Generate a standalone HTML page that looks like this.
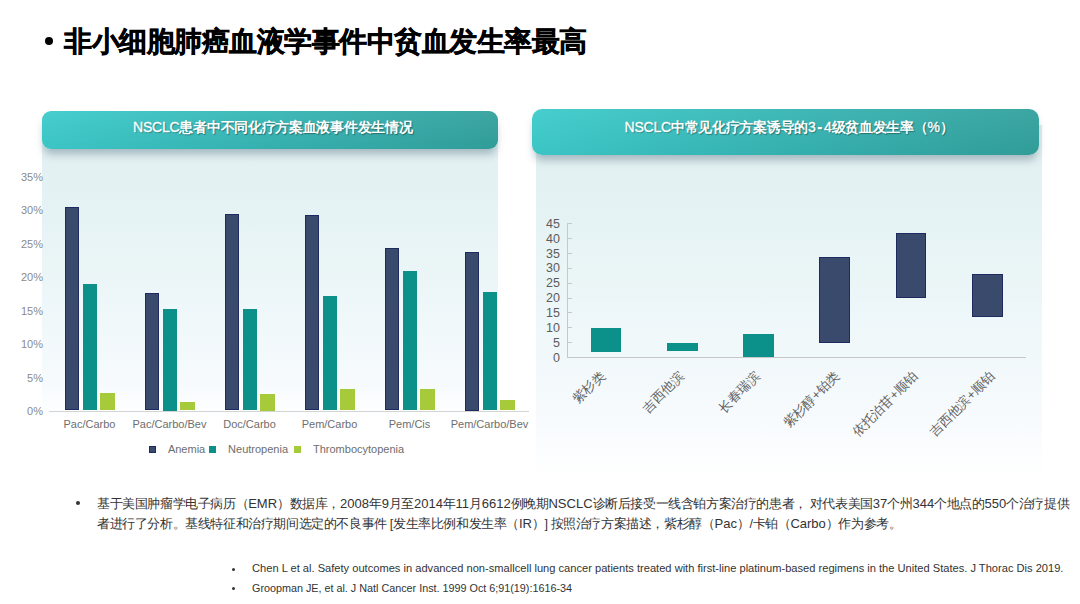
<!DOCTYPE html>
<html><head><meta charset="utf-8">
<style>
*{margin:0;padding:0;box-sizing:border-box}
html,body{width:1080px;height:604px;overflow:hidden;background:#fff}
body{position:relative;font-family:"Liberation Sans",sans-serif;color:#333}
.abs{position:absolute;white-space:nowrap;line-height:1}
.panel{position:absolute}
#pl{left:42px;top:130px;width:456px;height:292px;background:linear-gradient(to bottom,#e0eff0 0%,#e6f3f4 30%,#eef7f9 60%,#f6fafd 85%,#ffffff 100%)}
#pr{left:535.5px;top:125px;width:506px;height:355px;background:linear-gradient(to bottom,#e0eff0 0%,#e6f3f4 28%,#eef7f9 55%,#f6fafd 80%,#ffffff 100%)}
.hdr{position:absolute;border-radius:9px;background:linear-gradient(to bottom,rgba(255,255,255,0.05),rgba(0,0,0,0.03)),linear-gradient(to right,#3dcbcb 0%,#36b5b4 50%,#32a19d 100%);box-shadow:0 7px 8px -2px rgba(60,90,110,0.38)}
.hdr span{position:absolute;color:#fff;font-weight:700;font-size:14px;letter-spacing:-0.3px;line-height:1;white-space:nowrap;text-shadow:1px 1px 1px rgba(0,0,0,0.35)}
.hdr span b{font-weight:400;letter-spacing:-0.2px;-webkit-text-stroke:0.3px #fff}
.ylab{position:absolute;font-size:11px;color:#8a8a8a;line-height:1;text-align:right;width:30px}
.xlab{position:absolute;font-size:11px;color:#6e6e6e;line-height:1;white-space:nowrap}
.bar{position:absolute}
.a{background:#3a4a6c;border:1px solid #1f2b5e}
.n{background:#0b918a}
.t{background:#a6ca3a}
.rylab{position:absolute;font-size:12.5px;color:#5c5c5c;line-height:1;text-align:right;width:30px}
.rxlab{position:absolute;width:0;height:0}
.rxlab span{position:absolute;right:0;top:0;font-size:13px;color:#606060;line-height:1;white-space:nowrap;transform-origin:100% 0;transform:rotate(-45deg)}
.fn{position:absolute;white-space:nowrap;line-height:1;font-size:12.5px;letter-spacing:-0.4px;color:#333;font-weight:500;transform-origin:0 0}
.fn i{font-style:normal;letter-spacing:0;font-size:13px}
.ref{position:absolute;white-space:nowrap;line-height:1;font-size:11px;color:#333;transform-origin:0 0}
</style></head><body>
<div class="abs" style="left:44.5px;top:37px;width:8px;height:8px;border-radius:50%;background:#000"></div>
<div class="abs" id="title" style="left:64px;top:28px;font-size:27.5px;letter-spacing:-0.5px;font-weight:900;color:#000;-webkit-text-stroke:0.5px #000">非小细胞肺癌血液学事件中贫血发生率最高</div>
<div class="panel" id="pl"></div>
<div class="panel" id="pr"></div>
<div class="hdr" style="left:42px;top:110.5px;width:456px;height:38.5px"><span id="h1" style="left:91px;top:9.5px"><b>NSCLC</b>患者中不同化疗方案血液事件发生情况</span></div>
<div class="hdr" style="left:532px;top:108.5px;width:507px;height:46px;border-radius:10px"><span id="h2" style="left:92.5px;top:11.5px"><b>NSCLC</b>中常见化疗方案诱导的<b>3<span style="position:static;margin:0 2px;text-shadow:inherit">-</span>4</b>级贫血发生率（<b>%</b>）</span></div>
<div class="ylab" style="left:13px;top:406.1px">0%</div>
<div class="ylab" style="left:13px;top:372.7px">5%</div>
<div class="ylab" style="left:13px;top:339.2px">10%</div>
<div class="ylab" style="left:13px;top:305.8px">15%</div>
<div class="ylab" style="left:13px;top:272.3px">20%</div>
<div class="ylab" style="left:13px;top:238.9px">25%</div>
<div class="ylab" style="left:13px;top:205.4px">30%</div>
<div class="ylab" style="left:13px;top:172.0px">35%</div>
<div class="abs" style="left:49.3px;top:411px;width:480px;height:1px;background:#d4d4d4"></div>
<div class="bar a" style="left:64.9px;top:207.2px;width:14.3px;height:203.3px"></div>
<div class="bar n" style="left:82.7px;top:284.2px;width:14.3px;height:126.3px"></div>
<div class="bar t" style="left:100.4px;top:392.9px;width:14.3px;height:17.6px"></div>
<div class="xlab" style="left:89.5px;top:419px;transform:translateX(-50%)">Pac/Carbo</div>
<div class="bar a" style="left:144.9px;top:292.8px;width:14.3px;height:117.7px"></div>
<div class="bar n" style="left:162.7px;top:308.5px;width:14.3px;height:102.0px"></div>
<div class="bar t" style="left:180.4px;top:402.1px;width:14.3px;height:8.4px"></div>
<div class="xlab" style="left:169.5px;top:419px;transform:translateX(-50%)">Pac/Carbo/Bev</div>
<div class="bar a" style="left:224.9px;top:213.8px;width:14.3px;height:196.7px"></div>
<div class="bar n" style="left:242.7px;top:309.2px;width:14.3px;height:101.3px"></div>
<div class="bar t" style="left:260.4px;top:394.0px;width:14.3px;height:16.5px"></div>
<div class="xlab" style="left:249.5px;top:419px;transform:translateX(-50%)">Doc/Carbo</div>
<div class="bar a" style="left:304.9px;top:214.9px;width:14.3px;height:195.6px"></div>
<div class="bar n" style="left:322.6px;top:295.7px;width:14.3px;height:114.8px"></div>
<div class="bar t" style="left:340.4px;top:389.3px;width:14.3px;height:21.2px"></div>
<div class="xlab" style="left:329.5px;top:419px;transform:translateX(-50%)">Pem/Carbo</div>
<div class="bar a" style="left:384.9px;top:248.2px;width:14.3px;height:162.3px"></div>
<div class="bar n" style="left:402.6px;top:270.9px;width:14.3px;height:139.6px"></div>
<div class="bar t" style="left:420.4px;top:388.8px;width:14.3px;height:21.7px"></div>
<div class="xlab" style="left:409.5px;top:419px;transform:translateX(-50%)">Pem/Cis</div>
<div class="bar a" style="left:464.9px;top:252.0px;width:14.3px;height:158.5px"></div>
<div class="bar n" style="left:482.6px;top:291.6px;width:14.3px;height:118.9px"></div>
<div class="bar t" style="left:500.4px;top:400.1px;width:14.3px;height:10.4px"></div>
<div class="xlab" style="left:489.5px;top:419px;transform:translateX(-50%)">Pem/Carbo/Bev</div>
<div class="bar a" style="left:149px;top:446px;width:7px;height:7px"></div>
<div class="xlab" style="left:167.9px;top:444px">Anemia</div>
<div class="bar n" style="left:209.2px;top:446px;width:7px;height:7px"></div>
<div class="xlab" style="left:228.1px;top:444px">Neutropenia</div>
<div class="bar t" style="left:294.1px;top:446px;width:7px;height:7px"></div>
<div class="xlab" style="left:313px;top:444px">Thrombocytopenia</div>
<div class="rylab" style="left:530px;top:351.5px">0</div>
<div class="rylab" style="left:530px;top:336.6px">5</div>
<div class="abs" style="left:567.8px;top:342.1px;width:4.5px;height:1px;background:#c8c8c8"></div>
<div class="rylab" style="left:530px;top:321.8px">10</div>
<div class="abs" style="left:567.8px;top:327.3px;width:4.5px;height:1px;background:#c8c8c8"></div>
<div class="rylab" style="left:530px;top:306.9px">15</div>
<div class="abs" style="left:567.8px;top:312.4px;width:4.5px;height:1px;background:#c8c8c8"></div>
<div class="rylab" style="left:530px;top:292.1px">20</div>
<div class="abs" style="left:567.8px;top:297.6px;width:4.5px;height:1px;background:#c8c8c8"></div>
<div class="rylab" style="left:530px;top:277.2px">25</div>
<div class="abs" style="left:567.8px;top:282.8px;width:4.5px;height:1px;background:#c8c8c8"></div>
<div class="rylab" style="left:530px;top:262.4px">30</div>
<div class="abs" style="left:567.8px;top:267.9px;width:4.5px;height:1px;background:#c8c8c8"></div>
<div class="rylab" style="left:530px;top:247.6px">35</div>
<div class="abs" style="left:567.8px;top:253.1px;width:4.5px;height:1px;background:#c8c8c8"></div>
<div class="rylab" style="left:530px;top:232.7px">40</div>
<div class="abs" style="left:567.8px;top:238.2px;width:4.5px;height:1px;background:#c8c8c8"></div>
<div class="rylab" style="left:530px;top:217.8px">45</div>
<div class="abs" style="left:567.8px;top:223.3px;width:4.5px;height:1px;background:#c8c8c8"></div>
<div class="abs" style="left:567.3px;top:223.3px;width:1.2px;height:134.2px;background:#c8c8c8"></div>
<div class="abs" style="left:567.3px;top:357px;width:458.3px;height:1px;background:#c8c8c8"></div>
<div class="bar n" style="left:590.5px;top:327.8px;width:30.8px;height:23.8px"></div>
<div class="rxlab" style="left:598.4px;top:369px"><span>紫杉类</span></div>
<div class="bar n" style="left:666.9px;top:342.6px;width:30.8px;height:8.9px"></div>
<div class="rxlab" style="left:676.8px;top:369px"><span>吉西他滨</span></div>
<div class="bar n" style="left:743.1px;top:333.7px;width:30.8px;height:23.8px"></div>
<div class="rxlab" style="left:753.0px;top:369px"><span>长春瑞滨</span></div>
<div class="bar a" style="left:819.4px;top:256.5px;width:30.8px;height:86.1px"></div>
<div class="rxlab" style="left:832.5px;top:369px"><span>紫杉醇+铂类</span></div>
<div class="bar a" style="left:895.7px;top:232.8px;width:30.8px;height:65.3px"></div>
<div class="rxlab" style="left:910.6px;top:369px"><span>依托泊苷+顺铂</span></div>
<div class="bar a" style="left:972.0px;top:274.3px;width:30.8px;height:43.1px"></div>
<div class="rxlab" style="left:987.8px;top:369px"><span>吉西他滨+顺铂</span></div>
<div class="abs" style="left:76px;top:501px;width:4px;height:4px;border-radius:50%;background:#333"></div>
<div class="fn" id="f1" style="left:97px;top:496.5px">基于美国肿瘤学电子病历（<i>EMR</i>）数据库，<i>2008</i>年<i>9</i>月至<i>2014</i>年<i>11</i>月<i>6612</i>例晚期<i>NSCLC</i>诊断后接受一线含铂方案治疗的患者， 对代表美国<i>37</i>个州<i>344</i>个地点的<i>550</i>个治疗提供</div>
<div class="fn" id="f2" style="left:97px;top:516.5px">者进行了分析。基线特征和治疗期间选定的不良事件 [发生率比例和发生率（<i>IR</i>）] 按照治疗方案描述，紫杉醇（<i>Pac</i>）/卡铂（<i>Carbo</i>）作为参考。</div>
<div class="abs" style="left:231.5px;top:568px;width:3px;height:3px;border-radius:50%;background:#333"></div>
<div class="ref" id="r1" style="left:251.5px;top:563px;transform:scaleX(1.01)">Chen L et al. Safety outcomes in advanced non-smallcell lung cancer patients treated with first-line platinum-based regimens in the United States. J Thorac Dis 2019.</div>
<div class="abs" style="left:231.5px;top:587px;width:3px;height:3px;border-radius:50%;background:#333"></div>
<div class="ref" id="r2" style="left:251.5px;top:583px;transform:scaleX(0.98)">Groopman JE, et al. J Natl Cancer Inst. 1999 Oct 6;91(19):1616-34</div>
</body></html>
